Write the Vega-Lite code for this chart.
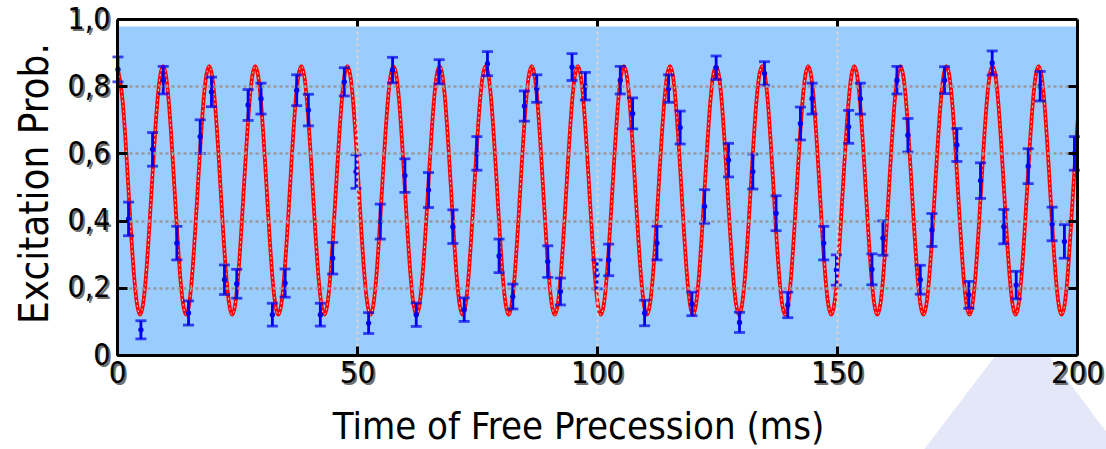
{
 "$schema": "https://vega.github.io/schema/vega-lite/v6.json",
 "width": 960, "height": 336,
 "autosize": "none",
 "padding": {"left": 117, "top": 19, "right": 29, "bottom": 94},
 "background": "white",
 "config": {"view": {"fill": "#99ccff", "stroke": null}, "font": "DejaVu Sans Condensed, DejaVu Sans"},
 "datasets": {
  "tri": [{"t": 168.2, "v": -0.28}, {"t": 183.1, "v": 0}, {"t": 194.1, "v": 0}, {"t": 208.8, "v": -0.28}],
  "strip": [{"t0": 0, "t1": 200, "v0": 0.978, "v1": 1}],
  "curve": [
   {"t":0,"v":0.86},{"t":1.2,"v":0.752},{"t":2.4,"v":0.49},{"t":3.6,"v":0.228},{"t":4.8,"v":0.12},{"t":6,"v":0.228},{"t":7.2,"v":0.49},{"t":8.4,"v":0.752},
   {"t":9.6,"v":0.86},{"t":10.8,"v":0.752},{"t":12,"v":0.49},{"t":13.2,"v":0.228},{"t":14.4,"v":0.12},{"t":15.6,"v":0.228},{"t":16.8,"v":0.49},{"t":18,"v":0.752},
   {"t":19.2,"v":0.86},{"t":20.4,"v":0.752},{"t":21.6,"v":0.49},{"t":22.8,"v":0.228},{"t":24,"v":0.12},{"t":25.2,"v":0.228},{"t":26.4,"v":0.49},{"t":27.6,"v":0.752},
   {"t":28.8,"v":0.86},{"t":30,"v":0.752},{"t":31.2,"v":0.49},{"t":32.4,"v":0.228},{"t":33.6,"v":0.12},{"t":34.8,"v":0.228},{"t":36,"v":0.49},{"t":37.2,"v":0.752},
   {"t":38.4,"v":0.86},{"t":39.6,"v":0.752},{"t":40.8,"v":0.49},{"t":42,"v":0.228},{"t":43.2,"v":0.12},{"t":44.4,"v":0.228},{"t":45.6,"v":0.49},{"t":46.8,"v":0.752},
   {"t":48,"v":0.86},{"t":49.2,"v":0.752},{"t":50.4,"v":0.49},{"t":51.6,"v":0.228},{"t":52.8,"v":0.12},{"t":54,"v":0.228},{"t":55.2,"v":0.49},{"t":56.4,"v":0.752},
   {"t":57.6,"v":0.86},{"t":58.8,"v":0.752},{"t":60,"v":0.49},{"t":61.2,"v":0.228},{"t":62.4,"v":0.12},{"t":63.6,"v":0.228},{"t":64.8,"v":0.49},{"t":66,"v":0.752},
   {"t":67.2,"v":0.86},{"t":68.4,"v":0.752},{"t":69.6,"v":0.49},{"t":70.8,"v":0.228},{"t":72,"v":0.12},{"t":73.2,"v":0.228},{"t":74.4,"v":0.49},{"t":75.6,"v":0.752},
   {"t":76.8,"v":0.86},{"t":78,"v":0.752},{"t":79.2,"v":0.49},{"t":80.4,"v":0.228},{"t":81.6,"v":0.12},{"t":82.8,"v":0.228},{"t":84,"v":0.49},{"t":85.2,"v":0.752},
   {"t":86.4,"v":0.86},{"t":87.6,"v":0.752},{"t":88.8,"v":0.49},{"t":90,"v":0.228},{"t":91.2,"v":0.12},{"t":92.4,"v":0.228},{"t":93.6,"v":0.49},{"t":94.8,"v":0.752},
   {"t":96,"v":0.86},{"t":97.2,"v":0.752},{"t":98.4,"v":0.49},{"t":99.6,"v":0.228},{"t":100.8,"v":0.12},{"t":102,"v":0.228},{"t":103.2,"v":0.49},{"t":104.4,"v":0.752},
   {"t":105.6,"v":0.86},{"t":106.8,"v":0.752},{"t":108,"v":0.49},{"t":109.2,"v":0.228},{"t":110.4,"v":0.12},{"t":111.6,"v":0.228},{"t":112.8,"v":0.49},{"t":114,"v":0.752},
   {"t":115.2,"v":0.86},{"t":116.4,"v":0.752},{"t":117.6,"v":0.49},{"t":118.8,"v":0.228},{"t":120,"v":0.12},{"t":121.2,"v":0.228},{"t":122.4,"v":0.49},{"t":123.6,"v":0.752},
   {"t":124.8,"v":0.86},{"t":126,"v":0.752},{"t":127.2,"v":0.49},{"t":128.4,"v":0.228},{"t":129.6,"v":0.12},{"t":130.8,"v":0.228},{"t":132,"v":0.49},{"t":133.2,"v":0.752},
   {"t":134.4,"v":0.86},{"t":135.6,"v":0.752},{"t":136.8,"v":0.49},{"t":138,"v":0.228},{"t":139.2,"v":0.12},{"t":140.4,"v":0.228},{"t":141.6,"v":0.49},{"t":142.8,"v":0.752},
   {"t":144,"v":0.86},{"t":145.2,"v":0.752},{"t":146.4,"v":0.49},{"t":147.6,"v":0.228},{"t":148.8,"v":0.12},{"t":150,"v":0.228},{"t":151.2,"v":0.49},{"t":152.4,"v":0.752},
   {"t":153.6,"v":0.86},{"t":154.8,"v":0.752},{"t":156,"v":0.49},{"t":157.2,"v":0.228},{"t":158.4,"v":0.12},{"t":159.6,"v":0.228},{"t":160.8,"v":0.49},{"t":162,"v":0.752},
   {"t":163.2,"v":0.86},{"t":164.4,"v":0.752},{"t":165.6,"v":0.49},{"t":166.8,"v":0.228},{"t":168,"v":0.12},{"t":169.2,"v":0.228},{"t":170.4,"v":0.49},{"t":171.6,"v":0.752},
   {"t":172.8,"v":0.86},{"t":174,"v":0.752},{"t":175.2,"v":0.49},{"t":176.4,"v":0.228},{"t":177.6,"v":0.12},{"t":178.8,"v":0.228},{"t":180,"v":0.49},{"t":181.2,"v":0.752},
   {"t":182.4,"v":0.86},{"t":183.6,"v":0.752},{"t":184.8,"v":0.49},{"t":186,"v":0.228},{"t":187.2,"v":0.12},{"t":188.4,"v":0.228},{"t":189.6,"v":0.49},{"t":190.8,"v":0.752},
   {"t":192,"v":0.86},{"t":193.2,"v":0.752},{"t":194.4,"v":0.49},{"t":195.6,"v":0.228},{"t":196.8,"v":0.12},{"t":198,"v":0.228},{"t":199.2,"v":0.49},{"t":200.4,"v":0.752}
  ],
  "pts": [
   {"t":0.2,"p":0.85,"e":0.037},{"t":2.41,"p":0.405,"e":0.05},{"t":4.98,"p":0.075,"e":0.027},{"t":7.41,"p":0.612,"e":0.05},
   {"t":9.63,"p":0.818,"e":0.041},{"t":12.47,"p":0.333,"e":0.05},{"t":14.9,"p":0.125,"e":0.036},{"t":17.33,"p":0.65,"e":0.05},
   {"t":19.68,"p":0.783,"e":0.044},{"t":22.39,"p":0.224,"e":0.044},{"t":24.95,"p":0.212,"e":0.043},{"t":27.31,"p":0.744,"e":0.046},
   {"t":30.0,"p":0.763,"e":0.046},{"t":32.37,"p":0.12,"e":0.034},{"t":35.02,"p":0.214,"e":0.042},{"t":37.44,"p":0.788,"e":0.046},
   {"t":39.87,"p":0.729,"e":0.047},{"t":42.36,"p":0.12,"e":0.034},{"t":44.93,"p":0.288,"e":0.047},{"t":47.36,"p":0.813,"e":0.042},
   {"t":49.79,"p":0.546,"e":0.05},{"t":52.42,"p":0.095,"e":0.031},{"t":54.85,"p":0.397,"e":0.052},{"t":57.41,"p":0.848,"e":0.038},
   {"t":59.98,"p":0.534,"e":0.05},{"t":62.34,"p":0.12,"e":0.035},{"t":64.9,"p":0.491,"e":0.052},{"t":67.12,"p":0.843,"e":0.036},
   {"t":69.97,"p":0.382,"e":0.05},{"t":72.33,"p":0.135,"e":0.035},{"t":74.97,"p":0.6,"e":0.05},{"t":77.18,"p":0.867,"e":0.036},
   {"t":79.6,"p":0.295,"e":0.05},{"t":82.46,"p":0.174,"e":0.037},{"t":84.87,"p":0.741,"e":0.045},{"t":87.45,"p":0.793,"e":0.041},
   {"t":89.74,"p":0.278,"e":0.047},{"t":92.37,"p":0.189,"e":0.04},{"t":94.8,"p":0.857,"e":0.04},{"t":97.57,"p":0.8,"e":0.041},
   {"t":100.0,"p":0.24,"e":0.043},{"t":102.43,"p":0.283,"e":0.047},{"t":104.85,"p":0.818,"e":0.041},{"t":107.42,"p":0.719,"e":0.046},
   {"t":109.92,"p":0.125,"e":0.038},{"t":112.49,"p":0.333,"e":0.05},{"t":114.92,"p":0.793,"e":0.041},{"t":117.33,"p":0.677,"e":0.049},
   {"t":119.77,"p":0.152,"e":0.035},{"t":122.41,"p":0.442,"e":0.05},{"t":124.82,"p":0.855,"e":0.035},{"t":127.4,"p":0.58,"e":0.05},
   {"t":129.69,"p":0.097,"e":0.03},{"t":132.46,"p":0.546,"e":0.052},{"t":134.89,"p":0.838,"e":0.035},{"t":137.31,"p":0.422,"e":0.052},
   {"t":139.74,"p":0.149,"e":0.038},{"t":142.38,"p":0.689,"e":0.049},{"t":144.8,"p":0.763,"e":0.046},{"t":147.23,"p":0.333,"e":0.05},
   {"t":149.87,"p":0.253,"e":0.045},{"t":152.43,"p":0.679,"e":0.049},{"t":154.87,"p":0.763,"e":0.046},{"t":157.28,"p":0.255,"e":0.046},
   {"t":159.57,"p":0.348,"e":0.051},{"t":162.49,"p":0.818,"e":0.041},{"t":164.77,"p":0.654,"e":0.05},{"t":167.35,"p":0.224,"e":0.043},
   {"t":169.77,"p":0.372,"e":0.049},{"t":172.41,"p":0.818,"e":0.04},{"t":174.97,"p":0.625,"e":0.049},{"t":177.47,"p":0.179,"e":0.04},
   {"t":179.9,"p":0.519,"e":0.053},{"t":182.33,"p":0.869,"e":0.036},{"t":184.75,"p":0.382,"e":0.051},{"t":187.33,"p":0.208,"e":0.041},
   {"t":189.83,"p":0.562,"e":0.052},{"t":192.32,"p":0.8,"e":0.044},{"t":194.82,"p":0.39,"e":0.05},{"t":197.38,"p":0.338,"e":0.05},
   {"t":199.46,"p":0.6,"e":0.05}
  ]
 },
 "layer": [
  {
   "data": {"name": "tri"},
   "mark": {"type": "area", "color": "#e3e7f8", "clip": false},
   "encoding": {
    "x": {"field": "t", "type": "quantitative", "scale": {"domain": [0, 200]},
     "axis": {"orient": "bottom", "values": [0, 50, 100, 150, 200], "format": "d",
      "grid": true, "gridColor": "#d4d4d4", "gridWidth": 2.5, "gridDash": [3, 3],
      "domainColor": "black", "domainWidth": 3, "tickColor": "black", "tickWidth": 3, "tickSize": -9,
      "labelPadding": 12, "labelFontSize": 31, "labelColor": "black", "labelFlush": false, "labelOverlap": false,
      "title": "Time of Free Precession (ms)", "titleFontSize": 38, "titleFontWeight": "normal", "titleColor": "black", "titlePadding": 20,
      "titleX": 461, "zindex": 2}},
    "y": {"field": "v", "type": "quantitative", "scale": {"domain": [0, 1]},
     "axis": {"orient": "left", "values": [0, 0.2, 0.4, 0.6, 0.8, 1],
      "labelExpr": "datum.value == 0 ? '0' : replace(format(datum.value, '.1f'), '.', ',')",
      "grid": true, "gridColor": "#999999", "gridWidth": 2.5, "gridDash": [3, 3],
      "domainColor": "black", "domainWidth": 3, "tickColor": "black", "tickWidth": 3, "tickSize": -10,
      "labelPadding": 17, "labelFontSize": 30, "labelColor": "black", "labelFlush": false, "labelOverlap": false,
      "title": "Excitation Prob.", "titleFontSize": 40, "titleFontWeight": "normal", "titleColor": "black", "titlePadding": 12,
      "titleY": 164, "zindex": 2}},
    "y2": {"datum": -0.28}
   }
  },
  {
   "data": {"name": "strip"},
   "mark": {"type": "rect", "color": "white"},
   "encoding": {
    "x": {"field": "t0", "type": "quantitative", "axis": null},
    "x2": {"field": "t1"},
    "y": {"field": "v0", "type": "quantitative", "axis": null},
    "y2": {"field": "v1"}
   }
  },
  {
   "data": {"name": "curve"},
   "mark": {"type": "line", "color": "#ff0000", "strokeWidth": 3.8, "interpolate": "natural", "clip": true},
   "encoding": {
    "x": {"field": "t", "type": "quantitative",
     "axis": {"orient": "top", "values": [50, 100, 150], "labels": false, "grid": false, "domainColor": "black", "domainWidth": 3,
      "tickColor": "black", "tickWidth": 3, "tickSize": -7, "title": null, "zindex": 2}},
    "y": {"field": "v", "type": "quantitative",
     "axis": {"orient": "right", "values": [0.2, 0.4, 0.6, 0.8], "labels": false, "grid": false, "domainColor": "black", "domainWidth": 3,
      "tickColor": "black", "tickWidth": 3, "tickSize": -9, "title": null, "zindex": 2}}
   }
  },
  {
   "data": {"name": "curve"},
   "mark": {"type": "line", "color": "#ffd0d0", "strokeWidth": 1, "strokeDash": [2, 3], "interpolate": "natural", "clip": true},
   "encoding": {
    "x": {"field": "t", "type": "quantitative",
     "axis": {"orient": "bottom", "values": [0, 50, 100, 150, 200], "format": "d", "grid": false, "domain": false,
      "tickOpacity": 0, "tickSize": -9, "labelPadding": 14, "labelOffset": 2, "labelFontSize": 31, "labelColor": "#707070",
      "labelFlush": false, "labelOverlap": false, "title": null, "zindex": 1}},
    "y": {"field": "v", "type": "quantitative",
     "axis": {"orient": "left", "values": [0, 0.2, 0.4, 0.6, 0.8, 1],
      "labelExpr": "datum.value == 0 ? '0' : replace(format(datum.value, '.1f'), '.', ',')", "grid": false, "domain": false,
      "tickOpacity": 0, "tickSize": -10, "labelPadding": 15, "labelOffset": 2, "labelFontSize": 30, "labelColor": "#707070",
      "labelFlush": false, "labelOverlap": false, "title": null, "zindex": 1}}
   }
  },
  {
   "data": {"name": "pts"},
   "mark": {"type": "errorbar", "color": "#0000ee", "thickness": 2.8, "size": 11, "ticks": true},
   "encoding": {
    "x": {"field": "t", "type": "quantitative", "axis": null},
    "y": {"field": "p", "type": "quantitative", "axis": null},
    "yError": {"field": "e"}
   }
  },
  {
   "data": {"name": "pts"},
   "mark": {"type": "point", "filled": true, "color": "#0000ee", "size": 28, "opacity": 1},
   "encoding": {
    "x": {"field": "t", "type": "quantitative", "axis": null},
    "y": {"field": "p", "type": "quantitative", "axis": null}
   }
  }
 ],
 "resolve": {"axis": {"x": "independent", "y": "independent"}}
}
